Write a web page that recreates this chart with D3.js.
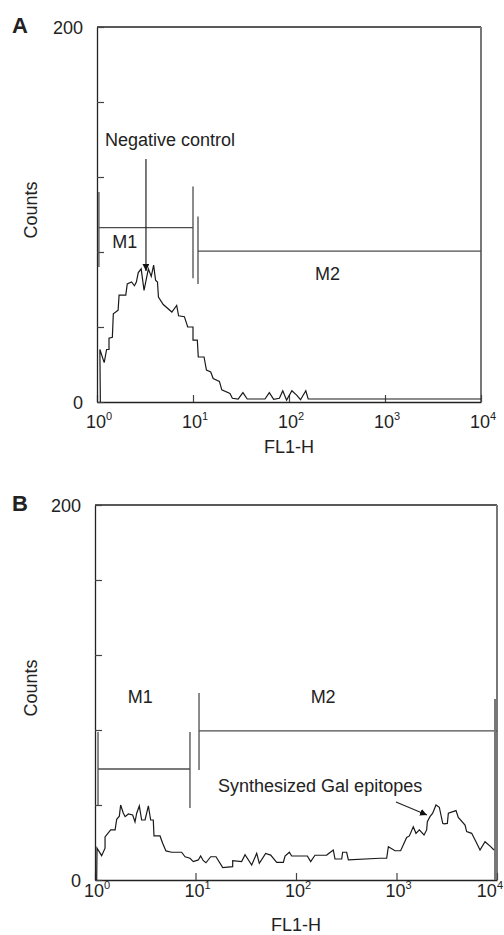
<!DOCTYPE html>
<html>
<head>
<meta charset="utf-8">
<script src="https://cdn.jsdelivr.net/npm/d3@7"></script>
<style>
  body { margin: 0; background: #fff; }
  text { font-family: "Liberation Sans", Arial, sans-serif; fill: #222; }
</style>
</head>
<body>
<svg id="chart" width="504" height="935"></svg>
<script>
// axis values
const decades = [0, 1, 2, 3, 4];          // FL1-H = 10^d
const countTicks = [0, 40, 80, 120, 160, 200];
const countLabels = [0, 200];

// histogram A (negative control): [log10 FL1-H, counts]
const histA = [
  [0.035, 0], [0.03, 28], [0.075, 21], [0.10, 28], [0.125, 28], [0.125, 34], [0.16, 34.5],
  [0.17, 47], [0.22, 49], [0.23, 57], [0.30, 57], [0.315, 63], [0.36, 64], [0.39, 62],
  [0.41, 64], [0.43, 69], [0.46, 71], [0.49, 59.5], [0.535, 71], [0.565, 67], [0.59, 73],
  [0.61, 65], [0.63, 64], [0.64, 56], [0.69, 52], [0.78, 48], [0.83, 51.5], [0.85, 46],
  [0.91, 45.5], [0.945, 40], [1.0, 40], [1.0, 33], [1.045, 33], [1.055, 24], [1.115, 24],
  [1.14, 17], [1.185, 16], [1.21, 12.5], [1.275, 11], [1.30, 6.5], [1.385, 4.5], [1.41, 2],
  [1.47, 1.5], [1.52, 5], [1.565, 1.6], [1.75, 1.6], [1.795, 5], [1.84, 1.4], [1.90, 2],
  [1.935, 6], [1.975, 1], [2.03, 6], [2.08, 3.7], [2.12, 1.2], [2.175, 6], [2.2, 1.6], [4.0, 1.6]
];

// histogram B (synthesized Gal epitopes)
const histB = [
  [0.017, 0], [0.02, 17], [0.066, 13], [0.10, 17], [0.10, 23], [0.156, 26.7], [0.20, 26.7],
  [0.216, 32.4], [0.242, 34], [0.255, 40], [0.282, 35.6], [0.30, 33.8], [0.332, 35.2],
  [0.375, 34.7], [0.398, 31], [0.415, 35.6], [0.441, 39.5], [0.464, 32], [0.498, 32],
  [0.531, 39.5], [0.554, 32], [0.58, 32], [0.587, 23.5], [0.647, 23.5], [0.673, 19.6],
  [0.706, 15.5], [0.763, 14.8], [0.862, 14.8], [0.896, 12.4], [0.945, 11.6], [0.978, 9.8],
  [1.028, 10.7], [1.051, 12.8], [1.078, 10.3], [1.104, 9.2], [1.151, 12.4], [1.204, 12.4],
  [1.271, 6.6], [1.37, 7.1], [1.37, 10.3], [1.459, 9.8], [1.493, 13.5], [1.559, 8],
  [1.609, 14.2], [1.635, 8.9], [1.698, 14.2], [1.748, 13.3], [1.808, 9.4], [1.874, 9.4],
  [1.891, 12.8], [1.934, 14.8], [1.957, 12.8], [2.113, 12.8], [2.146, 9.8], [2.189, 13.2],
  [2.305, 13.3], [2.371, 16], [2.388, 11.2], [2.455, 11.2], [2.464, 14.8], [2.504, 14.8],
  [2.521, 10.7], [2.836, 11.6], [2.902, 11.6], [2.919, 17.8], [2.985, 15.6], [3.041, 15.6],
  [3.101, 22.7], [3.128, 23.5], [3.167, 28.4], [3.194, 24.9], [3.227, 26.7], [3.274, 24],
  [3.30, 26.7], [3.307, 31.1], [3.333, 33.8], [3.36, 35.6], [3.393, 40], [3.426, 38.8],
  [3.46, 30.2], [3.473, 29.9], [3.506, 30.2], [3.516, 35.6], [3.592, 37], [3.615, 33.4],
  [3.682, 29.3], [3.698, 25.8], [3.748, 24.9], [3.791, 20.4], [3.831, 16], [3.881, 20.4],
  [3.937, 17.8], [3.97, 16]
];

// marker gates: log10 range, bar level, end-tick spans (counts)
const gatesA = [
  { name: "M1", from: 0.02, to: 1.0, level: 93, left: [72, 112], right: [66, 115] },
  { name: "M2", from: 1.052, to: 4.0, level: 80.5, left: [63, 99], right: null }
];
const gatesB = [
  { name: "M1", from: 0.03, to: 0.945, level: 59.2, left: [40, 79], right: [38.4, 79] },
  { name: "M2", from: 1.035, to: 4.0, level: 79.5, left: [58.7, 99.7], right: [0, 96.5] }
];

const svg = d3.select("#chart");

svg.append("defs").append("marker")
  .attr("id", "head")
  .attr("viewBox", "0 0 10 10")
  .attr("refX", 10).attr("refY", 5)
  .attr("markerWidth", 7).attr("markerHeight", 7)
  .attr("markerUnits", "userSpaceOnUse")
  .attr("orient", "auto")
  .append("path").attr("d", "M0,0L10,5L0,10z").attr("fill", "#111");

const panels = [
  {
    letter: "A", left: 97, top: 27, width: 384, height: 375,
    hist: histA, gates: gatesA, tickLabelDy: 26, titleDy: 51, gateLabelY: { M1: 82, M2: 65 },
    gateLabelX: { M1: 0.29, M2: 2.4 },
    note: { text: "Negative control", x: 0.083, y: 136.5, anchor: "start",
            from: [0.51, 129.6], to: [0.51, 69.9] }
  },
  {
    letter: "B", left: 95, top: 505, width: 402, height: 375,
    hist: histB, gates: gatesB, tickLabelDy: 17, titleDy: 51, gateLabelY: { M1: 94.4, M2: 94.4 },
    gateLabelX: { M1: 0.45, M2: 2.27 },
    note: { text: "Synthesized Gal epitopes", x: 2.24, y: 47, anchor: "middle",
            from: [2.995, 41.6], to: [3.303, 34.7] }
  }
];

panels.forEach(p => {
  const g = svg.append("g").attr("transform", `translate(${p.left},${p.top})`);

  const x = d3.scaleLog().domain([1, 1e4]).range([0, p.width]);
  const y = d3.scaleLinear().domain([0, 200]).range([p.height, 0]);
  const xe = e => x(Math.pow(10, e));

  // frame: top black, right grey
  g.append("line").attr("x1", 0).attr("x2", p.width).attr("y1", 0).attr("y2", 0)
    .attr("stroke", "#222").attr("stroke-width", 1.3);
  g.append("line").attr("x1", p.width).attr("x2", p.width).attr("y1", 0).attr("y2", p.height)
    .attr("stroke", "#777").attr("stroke-width", 2);

  // axes with inward ticks
  const xAxis = g.append("g").attr("transform", `translate(0,${p.height})`)
    .call(d3.axisBottom(x).tickValues(decades.map(d => Math.pow(10, d)))
      .tickSizeInner(-7).tickSizeOuter(0).tickFormat(""));
  const yAxis = g.append("g")
    .call(d3.axisLeft(y).tickValues(countTicks).tickSizeInner(-7).tickSizeOuter(0).tickFormat(""));
  [xAxis, yAxis].forEach(a => {
    a.select(".domain").attr("stroke", "#222").attr("stroke-width", 1.3);
    a.selectAll(".tick line").attr("stroke", "#444").attr("stroke-width", 1.2);
  });

  // x tick labels 10^n
  const xl = g.selectAll(".xl").data(decades).join("text")
    .attr("x", d => xe(d) + 2).attr("y", p.height + p.tickLabelDy)
    .attr("text-anchor", "middle").attr("font-size", 18);
  xl.append("tspan").text("10");
  xl.append("tspan").attr("dy", -8).attr("font-size", 11).text(d => d);
  // keep the last label inside the page
  xl.each(function () {
    const b = this.getBBox();
    const over = p.left + b.x + b.width - 503;
    if (over > 0) d3.select(this).attr("x", +d3.select(this).attr("x") - over);
  });

  g.append("text").attr("x", p.width / 2 + 0).attr("y", p.height + p.titleDy)
    .attr("text-anchor", "middle").attr("font-size", 18).text("FL1-H");

  // y labels
  g.selectAll(".yl").data(countLabels).join("text")
    .attr("x", -14).attr("y", d => y(d) + 7)
    .attr("text-anchor", "end").attr("font-size", 18).text(d => d);

  g.append("text")
    .attr("transform", `translate(${37 - p.left},${183}) rotate(-90)`)
    .attr("text-anchor", "middle").attr("font-size", 18).text("Counts");

  svg.append("text").attr("x", 12).attr("y", p.top + 6)
    .attr("font-size", 22).attr("font-weight", "bold").text(p.letter);

  // gates
  p.gates.forEach(m => {
    const gg = g.append("g").attr("stroke", "#4d4d4d").attr("stroke-width", 1.3);
    gg.append("line").attr("x1", xe(m.from)).attr("x2", xe(m.to))
      .attr("y1", y(m.level)).attr("y2", y(m.level));
    gg.append("line").attr("x1", xe(m.from)).attr("x2", xe(m.from))
      .attr("y1", y(m.left[0])).attr("y2", y(m.left[1]));
    if (m.right) {
      const edge = m.to === 4;
      gg.append("line").attr("x1", xe(m.to) - (edge ? 2 : 0)).attr("x2", xe(m.to) - (edge ? 2 : 0))
        .attr("y1", y(m.right[0])).attr("y2", y(m.right[1]))
        .attr("stroke-width", edge ? 2 : 1.3).attr("stroke", edge ? "#777" : "#4d4d4d");
    }
    g.append("text").attr("x", xe(p.gateLabelX[m.name])).attr("y", y(p.gateLabelY[m.name]))
      .attr("text-anchor", "middle").attr("font-size", 18).text(m.name);
  });

  // histogram
  const line = d3.line().x(d => xe(d[0])).y(d => y(d[1]));
  g.append("path").datum(p.hist).attr("d", line)
    .attr("fill", "none").attr("stroke", "#1a1a1a").attr("stroke-width", 1.2);

  // annotation
  g.append("text").attr("x", xe(p.note.x)).attr("y", y(p.note.y))
    .attr("text-anchor", p.note.anchor).attr("font-size", 18).text(p.note.text);
  g.append("line")
    .attr("x1", xe(p.note.from[0])).attr("y1", y(p.note.from[1]))
    .attr("x2", xe(p.note.to[0])).attr("y2", y(p.note.to[1]))
    .attr("stroke", "#222").attr("stroke-width", 1.2).attr("marker-end", "url(#head)");
});
</script>
</body>
</html>
